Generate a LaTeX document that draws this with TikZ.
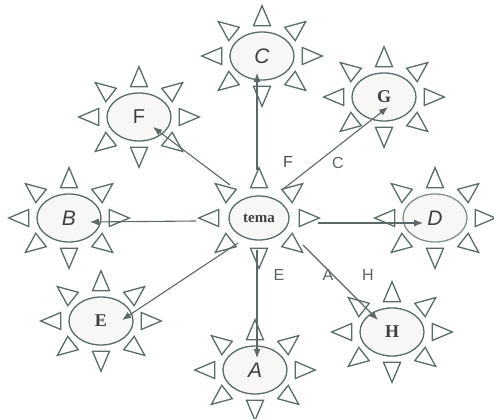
\documentclass[tikz,border=0pt]{standalone}
\usepackage{fontspec}
\setmainfont{Liberation Serif}
\newfontfamily\sanf{Liberation Sans}
\usetikzlibrary{calc,arrows.meta,shapes.geometric}
\definecolor{ink}{RGB}{88,108,104}
\definecolor{arrc}{RGB}{92,104,104}
\definecolor{ellfill}{RGB}{247,247,245}
\definecolor{lbl}{RGB}{95,100,100}
\tikzset{
  ell/.style={ellipse, draw=ink, line width=1.3pt, fill=ellfill, minimum width=64pt, minimum height=48pt, inner sep=0pt, text=black!75},
  tri/.style={draw=ink, line width=1.3pt, line join=miter},
  arr/.style={draw=arrc, line width=1.1pt, -{Latex[length=9pt,width=7pt]}},
  itl/.style={font=\sanf\itshape\fontsize{21}{21}\selectfont},
  srf/.style={font=\bfseries\fontsize{18}{18}\selectfont},
  sup/.style={font=\sanf\fontsize{20}{20}\selectfont},
  elab/.style={text=lbl, font=\sanf\fontsize{16}{16}\selectfont},
  rays/.pic={
    \foreach \a in {0,45,...,315}{
      \begin{scope}[shift={({47*cos(\a)},{37*sin(\a)})}, rotate={-atan2(37*sin(\a),47*cos(\a))}]
        \draw[tri] (13.3,0) -- (-6.7,8.5) -- (-6.7,-8.5) -- cycle;
      \end{scope}
    }
  }
}
\begin{document}
\begin{tikzpicture}[x=1pt,y=-1pt]
\useasboundingbox (0,0) rectangle (494,419);
\fill[white] (0,0) rectangle (494,419);
% suns
\foreach \p in {(262,56),(139,117),(384,97),(69,218),(259,218),(435,218),(101,321),(255,370),(392,332)}{
  \pic at \p {rays};
}
\node[ell, itl] (C) at (262,56) {C};
\node[ell, sup] (F) at (139,117) {F};
\node[ell, srf] (G) at (384,97) {G};
\node[ell, itl] (B) at (69,218) {B};
\node[ell, minimum width=60pt, minimum height=44pt, font=\bfseries\fontsize{15}{15}\selectfont] (tema) at (259,218) {tema};
\node[ell, itl, draw=ink!75] (D) at (435,218) {D};
\node[ell, srf] (E) at (101,321) {E};
\node[ell, itl] (A) at (255,370) {A};
\node[ell, srf] (H) at (392,332) {H};
% connectors
\draw[arr] ($(tema)+(-2,-48)$) -- ($(C)+(-5,17)$);
\draw[arr] ($(tema)+(-29,-33)$) -- ($(F)+(14,10)$);
\draw[arr] ($(tema)+(23,-28)$) -- ($(G)+(4,10)$);
\draw[arr] ($(tema)+(-63,3)$) -- ($(B)+(21,4)$);
\draw[arr] ($(tema)+(59,5)$) -- ($(D)+(-12,5)$);
\draw[arr] ($(tema)+(-21,25)$) -- ($(E)+(21,-1)$);
\draw[arr] ($(tema)+(-2,32)$) -- ($(A)+(2,-12)$);
\draw[arr] ($(tema)+(44,27)$) -- ($(H)+(-14,-12)$);
% edge labels
\node[elab, text=black!70] (lF) at (288,162) {F};
\node[elab] (lC) at (338,163) {C};
\node[elab] (lE) at (279,275) {E};
\node[elab] (lA) at (328,275) {A};
\node[elab] (lH) at (368,275) {H};
\end{tikzpicture}
\end{document}
